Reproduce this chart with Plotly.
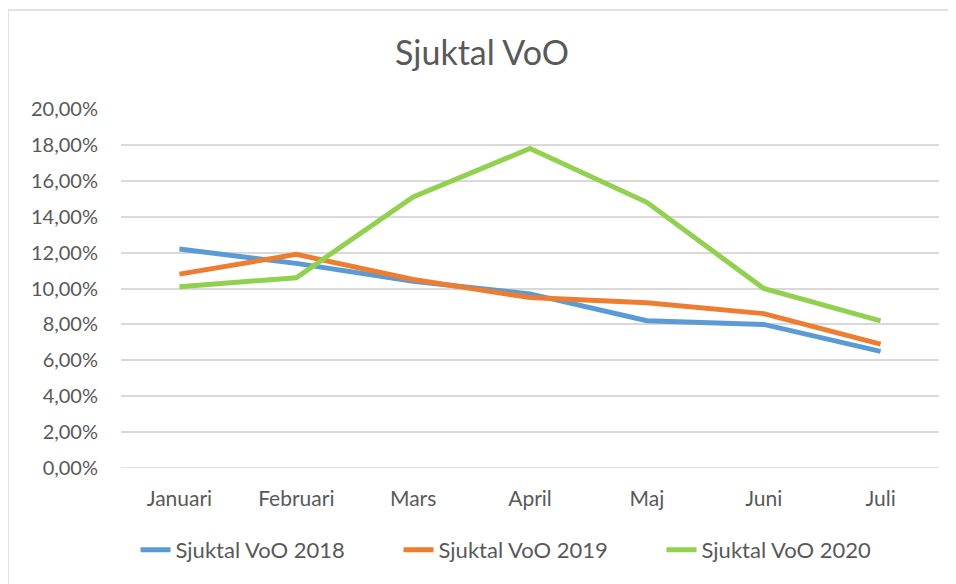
import plotly.graph_objects as go

months = ["Januari", "Februari", "Mars", "April", "Maj", "Juni", "Juli"]
v2018 = [0.122, 0.114, 0.104, 0.097, 0.082, 0.080, 0.065]
v2019 = [0.108, 0.119, 0.105, 0.095, 0.092, 0.086, 0.069]
v2020 = [0.101, 0.106, 0.151, 0.178, 0.148, 0.100, 0.082]
series_names = ["Sjuktal VoO 2018", "Sjuktal VoO 2019", "Sjuktal VoO 2020"]
colors = ["#5B9BD5", "#ED7D31", "#92D050"]
y_ticks = [i / 100 for i in range(0, 21, 2)]
y_tick_labels = [f"{v*100:.2f}".replace(".", ",") + "%" for v in y_ticks]

FONT = "Lato, Open Sans, sans-serif"
TXT = "#595959"

fig = go.Figure()
for name, vals, c in zip(series_names, [v2018, v2019, v2020], colors):
    fig.add_trace(go.Scatter(x=months, y=vals, mode="lines", name=name,
                             line=dict(color=c, width=5)))

# page has an 8px body margin; figure coordinates = screen - 8
OFF = 8
W, H = 948, 576
L, R, T, B = 121 - OFF, 17, 109 - OFF, 116
pw, ph = W - L - R, H - T - B

def px_x(x):
    return (x - OFF - L) / pw

def px_y(y):
    return (H - B - (y - OFF)) / ph

fig.update_layout(
    width=W, height=H,
    margin=dict(l=L, r=R, t=T, b=B),
    paper_bgcolor="white", plot_bgcolor="white",
    font=dict(family=FONT, color=TXT, size=20),
    title=dict(text="Sjuktal VoO", x=0.5, xanchor="center",
               y=1 - (53 - OFF) / H, yanchor="middle",
               font=dict(size=34, color=TXT, family=FONT)),
    xaxis=dict(type="category", range=[-0.5, 6.5], showgrid=False, zeroline=False,
               showline=False, ticks="", tickfont=dict(size=21, color=TXT),
               ticklabelstandoff=16),
    yaxis=dict(range=[0, 0.2], tickvals=y_ticks, ticktext=y_tick_labels,
               showgrid=True, gridcolor="#D9D9D9", gridwidth=1.5, zeroline=False,
               showline=False, ticks="", tickfont=dict(size=20, color=TXT),
               ticklabelstandoff=22),
    legend=dict(orientation="h", x=0.5, xanchor="center", y=px_y(550), yanchor="middle",
                font=dict(size=22, color=TXT), entrywidth=218, itemwidth=30),
    showlegend=True,
    shapes=[
        dict(type="line", xref="paper", yref="paper", x0=px_x(OFF), x1=px_x(OFF),
             y0=px_y(10), y1=px_y(H + 20), line=dict(color="#D9D9D9", width=1.5)),
        dict(type="line", xref="paper", yref="paper", x0=px_x(OFF), x1=px_x(W + 20),
             y0=px_y(10), y1=px_y(10), line=dict(color="#D9D9D9", width=1.5)),
        dict(type="line", xref="paper", yref="y", x0=0, x1=1, y0=0, y1=0,
             line=dict(color="#D9D9D9", width=1.5), layer="below"),
    ],
)

fig.write_html("out.html")
